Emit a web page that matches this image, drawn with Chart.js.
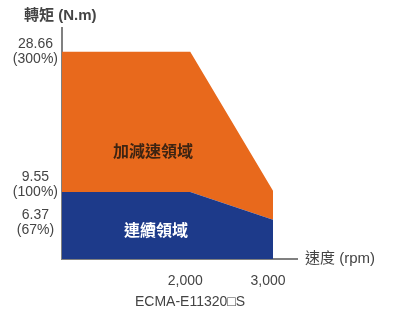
<!DOCTYPE html>
<html>
<head>
<meta charset="utf-8">
<script src="https://cdn.jsdelivr.net/npm/chart.js@4"></script>
<style>
  html, body { margin: 0; padding: 0; background: #fff; }
  #wrap { width: 393px; height: 312px; position: relative; }
</style>
</head>
<body>
<div id="wrap"><canvas id="torqueChart" width="393" height="312"></canvas></div>
<script>
// values
const speedPoints = [450, 2000, 3000];           // rpm
const continuousTorque = [9.55, 9.55, 5.75];     // N.m
const peakTorque = [28.66, 28.66, 9.7];          // N.m
const xTicks = [2000, 3000];
const xTickLabels = ['2,000', '3,000'];
const yTicks = [6.37, 9.55, 28.66];
// blank lines nudge the two close labels apart like in the original
const yTickLabels = [['', '6.37', '(67%)'], ['9.55', '(100%)', ''], ['28.66', '(300%)']];

const latin = '"Liberation Sans", Arial, sans-serif';
const cjk = '"Liberation Sans", "Noto Sans CJK TC", sans-serif';

const ctx = document.getElementById('torqueChart').getContext('2d');

// extra labels: axis names, area names, model name
const textPlugin = {
    id: 'texts',
    afterDraw(chart) {
        const c = chart.ctx;
        const y = chart.scales.y;
        c.save();
        c.textBaseline = 'middle';

        c.fillStyle = '#444';
        c.font = 'bold 15px ' + cjk;
        c.textAlign = 'left';
        c.fillText('轉矩 (N.m)', 24, 16);

        c.font = '15px ' + cjk;
        c.fillText('速度 (rpm)', chart.chartArea.right + 8, chart.chartArea.bottom);

        c.font = '14px ' + cjk;
        c.textAlign = 'center';
        c.fillText('ECMA-E11320□S', 190, 302);

        c.font = 'bold 16px ' + cjk;
        c.fillStyle = '#3d2412';
        c.fillText('加減速領域', 153, y.getPixelForValue(14.9));
        c.fillStyle = '#ffffff';
        c.fillText('連續領域', 156, y.getPixelForValue(4.2));
        c.restore();
    }
};

new Chart(ctx, {
    type: 'line',
    data: {
        labels: speedPoints,
        datasets: [
            {
                label: '連續領域',
                data: speedPoints.map((s, i) => ({ x: s, y: continuousTorque[i] })),
                borderWidth: 0,
                pointRadius: 0,
                backgroundColor: '#1d3a8a',
                fill: 'start',
                tension: 0
            },
            {
                label: '加減速領域',
                data: speedPoints.map((s, i) => ({ x: s, y: peakTorque[i] })),
                borderWidth: 0,
                pointRadius: 0,
                backgroundColor: '#e8691c',
                fill: '-1',
                tension: 0
            }
        ]
    },
    options: {
        responsive: false,
        animation: false,
        layout: { padding: { top: 28, right: 96, left: 0, bottom: 0 } },
        plugins: {
            legend: { display: false },
            tooltip: { enabled: false }
        },
        scales: {
            x: {
                type: 'linear',
                min: 450,
                max: 3290,
                afterBuildTicks: axis => { axis.ticks = xTicks.map(v => ({ value: v })); },
                afterFit: axis => { axis.height = 312 - 259; },
                grid: { display: false, drawTicks: false },
                border: { display: true, color: '#808080', width: 2 },
                ticks: {
                    padding: 14,
                    labelOffset: -5,
                    color: '#444',
                    font: { family: latin, size: 14 },
                    callback: v => xTickLabels[xTicks.indexOf(v)]
                }
            },
            y: {
                type: 'linear',
                min: 0.4,
                max: 31.9,
                afterBuildTicks: axis => { axis.ticks = yTicks.map(v => ({ value: v })); },
                afterFit: axis => { axis.width = 62; },
                grid: { display: false, drawTicks: false },
                border: { display: true, color: '#808080', width: 2 },
                ticks: {
                    padding: 4,
                    crossAlign: 'center',
                    color: '#444',
                    font: { family: latin, size: 14, lineHeight: 1.08 },
                    callback: v => yTickLabels[yTicks.indexOf(v)]
                }
            }
        }
    },
    plugins: [textPlugin]
});
</script>
</body>
</html>
